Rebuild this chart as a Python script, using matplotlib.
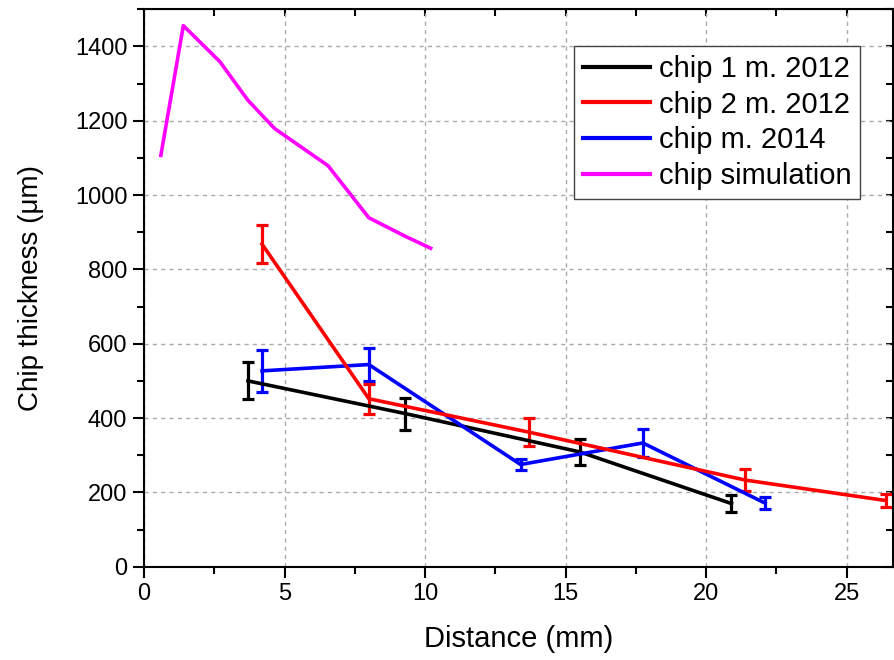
import matplotlib
matplotlib.use("Agg")
from matplotlib import pyplot as plt
import matplotlib.ticker as ticker

# data
x_chip1 = [3.7, 9.3, 15.5, 20.9]
y_chip1 = [500, 412, 309, 170]
e_chip1 = [50, 43, 35, 24]

x_chip2 = [4.2, 8.0, 13.7, 21.4, 26.4]
y_chip2 = [868, 452, 362, 233, 178]
e_chip2 = [52, 41, 37, 30, 17]

x_chip14 = [4.2, 8.0, 13.4, 17.75, 22.1]
y_chip14 = [527, 544, 275, 333, 171]
e_chip14 = [57, 44, 15, 38, 17]

x_sim = [0.6, 1.4, 2.7, 3.7, 4.65, 6.55, 8.0, 9.3, 10.2]
y_sim = [1107, 1456, 1359, 1255, 1179, 1079, 939, 889, 857]

labels = ['chip 1 m. 2012', 'chip 2 m. 2012', 'chip m. 2014', 'chip simulation']

plt.rcParams['font.family'] = ['Liberation Sans', 'DejaVu Sans']

W, H = 895, 660
fig = plt.figure(figsize=(W / 100, H / 100), dpi=100)
ax = fig.add_axes([144 / W, (H - 566.7) / H, (893 - 144) / W, (566.7 - 9.3) / H])

lw = 2.6
ebkw = dict(elinewidth=2.3, capsize=4.5, capthick=2.3)
h1 = ax.errorbar(x_chip1, y_chip1, yerr=e_chip1, color='black', lw=lw, **ebkw)
h3 = ax.errorbar(x_chip14, y_chip14, yerr=e_chip14, color='#0000ff', lw=lw, **ebkw)
h2 = ax.errorbar(x_chip2, y_chip2, yerr=e_chip2, color='#ff0000', lw=lw, **ebkw)
h4, = ax.plot(x_sim, y_sim, color='#ff00ff', lw=lw)

ax.set_xlim(0, 26.65)
ax.set_ylim(0, 1500)
ax.xaxis.set_major_locator(ticker.MultipleLocator(5))
ax.xaxis.set_minor_locator(ticker.MultipleLocator(2.5))
ax.yaxis.set_major_locator(ticker.MultipleLocator(200))
ax.yaxis.set_minor_locator(ticker.MultipleLocator(100))

ax.grid(True, which='major', color='#aaaaaa', linestyle=(0, (3, 3)), linewidth=1)
ax.set_axisbelow(True)

for s in ax.spines.values():
    s.set_linewidth(1.5)

ax.tick_params(which='major', direction='out', length=8, width=1.5, labelsize=17, pad=4)
ax.tick_params(which='minor', direction='out', length=5, width=1.5)

# inward ticks on top and right, like Origin
top = ax.secondary_xaxis('top')
top.xaxis.set_major_locator(ticker.MultipleLocator(5))
top.xaxis.set_minor_locator(ticker.MultipleLocator(2.5))
top.tick_params(which='both', direction='in', length=5, width=1.5, labeltop=False)
right = ax.secondary_yaxis('right')
right.yaxis.set_major_locator(ticker.MultipleLocator(200))
right.yaxis.set_minor_locator(ticker.MultipleLocator(100))
right.tick_params(which='both', direction='in', length=5, width=1.5, labelright=False)

ax.set_xlabel('Distance (mm)', fontsize=21, labelpad=14)
ax.set_ylabel('Chip thickness (\u03bcm)', fontsize=20, labelpad=22)

leg = ax.legend([h1[0], h2[0], h3[0], h4], labels, loc='upper right',
                bbox_to_anchor=(860 / W, 1 - 46 / H), bbox_transform=fig.transFigure,
                borderaxespad=0, fontsize=21, handlelength=2.3, handletextpad=0.3,
                labelspacing=0.27, borderpad=0.3, fancybox=False, framealpha=1)
leg.get_frame().set_edgecolor('#444444')
leg.get_frame().set_linewidth(1)
for line in leg.get_lines():
    line.set_linewidth(3)

fig.savefig('out.png', dpi=100)
plt.close()
